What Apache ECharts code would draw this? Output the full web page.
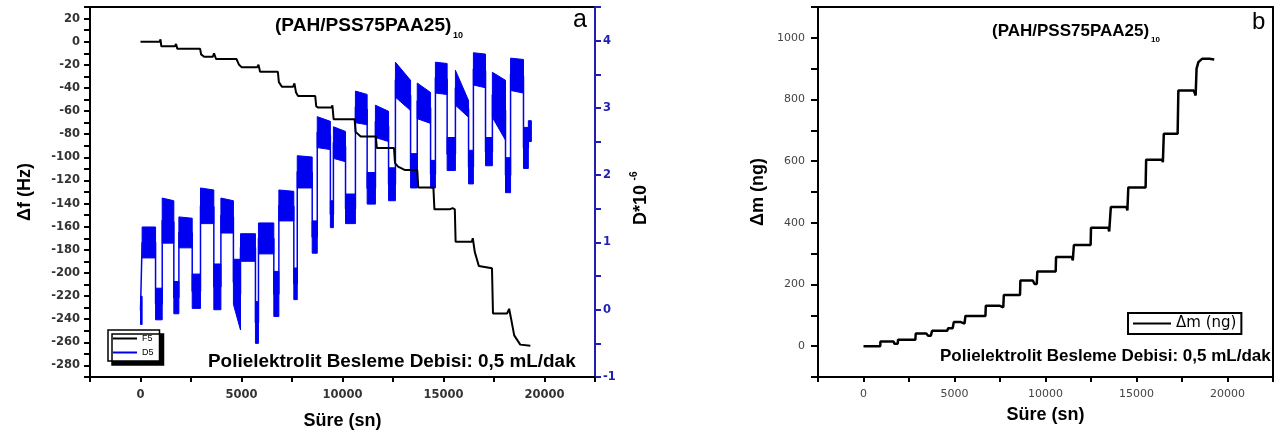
<!DOCTYPE html>
<html><head><meta charset="utf-8">
<script src="https://cdn.jsdelivr.net/npm/echarts@6/dist/echarts.min.js"></script>
<style>html,body{margin:0;padding:0;background:#fff}#c{width:1282px;height:439px}</style>
</head><body><div id="c"></div>
<script>
// ---------- DATA ----------
// Panel a: F5 frequency shift (Hz) vs time (sn)
const f5Time  = [0, 950, 990, 1030, 1700, 1760, 1820, 2950, 3000, 3150, 3580, 3640, 3740, 4750, 4820, 4880, 5000, 5780, 5840, 5920, 6800, 6850, 7000, 7550, 7620, 7700, 7800, 8650, 8700, 8800, 9450, 9500, 9560, 10600, 10650, 10900, 11650, 11700, 12550, 12600, 12750, 13100, 13700, 13750, 14500, 14550, 15300, 15450, 15560, 15600, 16400, 16450, 16550, 16750, 17400, 17450, 18150, 18250, 18350, 18500, 18800, 19300];
const f5Shift = [0, 0, 2, -4, -4, -2, -6, -6, -11, -13, -13, -10, -15, -15, -14, -20, -22, -22, -20, -26, -26, -35, -39, -39, -36, -44, -47, -47, -56, -57, -57, -55, -67, -67, -78, -82, -82, -92, -92, -105, -108, -111, -111, -126, -126, -145, -145, -144, -145, -173, -173, -170, -182, -194, -196, -235, -235, -231, -240, -254, -262, -263];

// Panel a: D5 dissipation (x10^-6) — noisy plateaus read as bands
const d5Start  = [0, 80, 745, 1075, 1650, 1900, 2560, 2970, 3630, 3980, 4600, 4950, 5690, 5840, 6600, 6850, 7590, 7760, 8500, 8750, 9400, 9550, 10150, 10640, 11220, 11630, 12280, 12620, 13370, 13700, 14360, 14600, 15180, 15590, 16240, 16480, 17080, 17420, 18070, 18320, 18960, 19200];
const d5End    = [80, 745, 1075, 1650, 1900, 2560, 2970, 3630, 3980, 4600, 4950, 5690, 5840, 6600, 6850, 7590, 7760, 8500, 8750, 9400, 9550, 10150, 10640, 11220, 11630, 12280, 12620, 13370, 13700, 14360, 14600, 15180, 15590, 16240, 16480, 17080, 17420, 18070, 18320, 18960, 19200, 19350];
const d5TopA   = [0.2, 1.23, 0.32, 1.66, 0.42, 1.38, 0.53, 1.81, 0.68, 1.66, 0.75, 1.13, 0.12, 1.29, 0.57, 1.78, 0.62, 2.29, 1.32, 2.87, 1.62, 2.72, 1.72, 3.25, 2.04, 3.04, 2.11, 3.68, 2.32, 3.37, 2.22, 3.68, 2.56, 3.56, 2.37, 3.82, 2.56, 3.53, 2.26, 3.74, 2.71, 2.81];
const d5TopB   = [0.2, 1.23, 0.32, 1.62, 0.42, 1.36, 0.53, 1.78, 0.68, 1.62, 0.75, 1.13, 0.12, 1.29, 0.57, 1.76, 0.62, 2.27, 1.32, 2.80, 1.62, 2.65, 1.72, 3.20, 2.04, 2.95, 2.11, 3.41, 2.32, 3.23, 2.22, 3.66, 2.56, 3.11, 2.37, 3.80, 2.56, 3.41, 2.26, 3.72, 2.71, 2.81];
const d5BotA   = [-0.22, 0.77, -0.15, 0.99, -0.06, 0.92, 0.02, 1.28, 0.0, 1.14, 0.08, 0.72, -0.5, 0.83, -0.1, 1.32, 0.15, 1.81, 0.84, 2.41, 1.22, 2.25, 1.28, 2.78, 1.57, 2.56, 1.62, 3.16, 1.81, 2.84, 1.81, 3.22, 2.07, 3.04, 1.87, 3.34, 2.14, 2.86, 1.74, 3.26, 2.10, 2.50];
const d5BotB   = [-0.22, 0.77, -0.15, 0.99, -0.06, 0.92, 0.02, 1.28, 0.0, 1.14, -0.3, 0.72, -0.5, 0.83, -0.1, 1.32, 0.15, 1.81, 0.84, 2.38, 1.22, 2.20, 1.28, 2.75, 1.57, 2.50, 1.62, 2.96, 1.81, 2.77, 1.81, 3.20, 2.07, 2.86, 1.87, 3.30, 2.14, 2.52, 1.74, 3.22, 2.10, 2.50];

// Panel b: mass change (ng) vs time (sn)
const massTime  = [0, 920, 930, 1650, 1700, 1880, 1900, 2850, 2870, 3450, 3550, 3700, 3770, 4600, 4650, 4900, 4960, 5350, 5450, 5550, 5600, 6700, 6720, 7500, 7600, 7680, 7710, 8600, 8620, 9300, 9400, 9520, 9550, 10560, 10580, 11450, 11500, 11540, 11560, 12480, 12500, 13450, 13500, 13570, 13590, 14450, 14500, 14530, 14550, 15500, 15530, 16400, 16450, 16480, 16500, 17260, 17300, 18150, 18250, 18290, 18300, 18400, 18600, 19000, 19270];
const massValue = [0, 0, 15, 15, 8, 8, 21, 21, 41, 41, 34, 34, 50, 50, 58, 58, 78, 78, 73, 73, 98, 98, 131, 131, 126, 126, 166, 166, 213, 213, 202, 202, 242, 242, 289, 289, 278, 278, 328, 328, 384, 384, 372, 372, 451, 451, 440, 440, 515, 515, 605, 605, 597, 597, 689, 689, 829, 829, 813, 813, 900, 921, 932, 932, 930];

// Texts
const panelTitle = '(PAH/PSS75PAA25)';
const titleSub = '10';
const noteText = 'Polielektrolit Besleme Debisi: 0,5 mL/dak';

// ---------- CHART ----------
const ARIAL = 'Liberation Sans, Arial, sans-serif';
const VERD = 'DejaVu Sans, Verdana, sans-serif';
const BLUE = '#0000f0';
const AXBLUE = '#1f1fb4';
const chart = echarts.init(document.getElementById('c'), null, {renderer: 'canvas'});

const f5Data = f5Time.map((t, i) => [t, f5Shift[i]]);
const massData = massTime.map((t, i) => [t, massValue[i]]);
const bandData = d5Start.map((t, i) => [t, d5End[i], d5TopA[i], d5TopB[i], d5BotA[i], d5BotB[i]]);
const d5Line = [];
d5Start.forEach((t, i) => {
  d5Line.push([t, (d5TopA[i] + d5BotA[i]) / 2]);
  d5Line.push([d5End[i], (d5TopB[i] + d5BotB[i]) / 2]);
});

function renderBand(params, api) {
  const p1 = api.coord([api.value(0), api.value(2)]);
  const p2 = api.coord([api.value(1), api.value(3)]);
  const p3 = api.coord([api.value(1), api.value(5)]);
  const p4 = api.coord([api.value(0), api.value(4)]);
  return {type: 'polygon', shape: {points: [p1, p2, p3, p4]}, style: {fill: BLUE, stroke: BLUE, lineWidth: 1}};
}

const xLabelFmt = v => (Math.round(v) % 5000 === 0 ? String(Math.round(v)) : '');

function xAxisCfg(grid, labelStyle, nameGap) {
  return {
    gridIndex: grid, type: 'value', min: -2500, max: 22500, interval: 2500,
    axisLine: {onZero: false, lineStyle: {color: '#000', width: 2}},
    axisTick: {length: 5, lineStyle: {color: '#000', width: 2}},
    axisLabel: Object.assign({formatter: xLabelFmt, margin: 12}, labelStyle),
    splitLine: {show: false},
    name: 'Süre (sn)', nameLocation: 'middle', nameGap: nameGap,
    nameTextStyle: {fontFamily: ARIAL, fontWeight: 'bold', fontSize: 18, color: '#000'}
  };
}

const option = {
  animation: false,
  backgroundColor: '#fff',
  grid: [
    {left: 90, top: 7, width: 505, height: 370, show: true, borderColor: '#000', borderWidth: 2, backgroundColor: 'transparent'},
    {left: 818, top: 7, width: 455, height: 370, show: true, borderColor: '#000', borderWidth: 2, backgroundColor: 'transparent'}
  ],
  xAxis: [
    xAxisCfg(0, {color: '#333', fontWeight: 'bold', fontSize: 11.5, fontFamily: VERD}, 35),
    xAxisCfg(1, {color: '#444', fontSize: 11, fontFamily: VERD}, 29)
  ],
  yAxis: [
    {
      gridIndex: 0, type: 'value', position: 'left', min: -290, max: 30, interval: 10,
      axisLine: {onZero: false, lineStyle: {color: '#000', width: 2}},
      axisTick: {length: 6, lineStyle: {color: '#000', width: 2}},
      axisLabel: {formatter: v => (Math.round(v) % 20 === 0 ? String(Math.round(v)) : ''), color: '#333', fontWeight: 'bold', fontSize: 11.5, margin: 10, fontFamily: VERD},
      splitLine: {show: false},
      name: 'Δf (Hz)', nameLocation: 'middle', nameGap: 56, nameRotate: 90,
      nameTextStyle: {fontFamily: ARIAL, fontWeight: 'bold', fontSize: 18, color: '#000'}
    },
    {
      gridIndex: 0, type: 'value', position: 'right', min: -1, max: 4.5, interval: 0.5,
      axisLine: {onZero: false, lineStyle: {color: AXBLUE, width: 2}},
      axisTick: {length: 6, lineStyle: {color: AXBLUE, width: 2}},
      axisLabel: {formatter: v => (Math.abs(v - Math.round(v)) < 1e-6 ? String(Math.round(v)) : ''), color: AXBLUE, fontWeight: 'bold', fontSize: 11.5, margin: 8, fontFamily: VERD},
      splitLine: {show: false}
    },
    {
      gridIndex: 1, type: 'value', position: 'left', min: -100, max: 1100, interval: 100,
      axisLine: {onZero: false, lineStyle: {color: '#000', width: 2}},
      axisTick: {length: 7, lineStyle: {color: '#000', width: 2}},
      axisLabel: {formatter: v => (Math.round(v) % 200 === 0 ? String(Math.round(v)) : ''), color: '#444', fontSize: 11, margin: 13, fontFamily: VERD},
      splitLine: {show: false},
      name: 'Δm (ng)', nameLocation: 'middle', nameGap: 51, nameRotate: 90,
      nameTextStyle: {fontFamily: ARIAL, fontWeight: 'bold', fontSize: 18, color: '#000'}
    }
  ],
  legend: [
    {
      data: [{name: 'F5', icon: 'rect'}, {name: 'D5', icon: 'rect'}],
      left: 108, top: 330, orient: 'vertical', itemWidth: 24, itemHeight: 2, itemGap: 5,
      padding: [4, 6, 4, 5], borderColor: '#000', borderWidth: 1.5, backgroundColor: '#fff',
      shadowColor: '#000', shadowOffsetX: 4, shadowOffsetY: 4, shadowBlur: 0.1,
      textStyle: {fontSize: 9, color: '#000', fontFamily: ARIAL}, selectedMode: false
    },
    {
      data: [{name: 'Δm (ng)', icon: 'rect'}],
      left: 1128, top: 313, itemWidth: 38, itemHeight: 2, itemGap: 4, padding: [3, 5, 3, 5],
      borderColor: '#000', borderWidth: 2, backgroundColor: '#fff',
      textStyle: {fontSize: 15, color: '#000', fontFamily: VERD}, selectedMode: false
    }
  ],
  graphic: [
    {type: 'text', x: 275, y: 26, scaleX: 1.06, style: {text: panelTitle, font: 'bold 18px ' + ARIAL, fill: '#000', align: 'left', verticalAlign: 'middle'}},
    {type: 'text', x: 453, y: 36, style: {text: titleSub, font: 'bold 9px ' + ARIAL, fill: '#000', align: 'left', verticalAlign: 'middle'}},
    {type: 'text', x: 573, y: 20, style: {text: 'a', font: '25px ' + ARIAL, fill: '#000', align: 'left', verticalAlign: 'middle'}},
    {type: 'text', x: 208, y: 362, scaleX: 1.08, style: {text: noteText, font: 'bold 17.5px ' + ARIAL, fill: '#000', align: 'left', verticalAlign: 'middle'}},
    {type: 'text', x: 641, y: 205, rotation: Math.PI / 2, style: {text: 'D*10', font: 'bold 18px ' + ARIAL, fill: '#000', align: 'center', verticalAlign: 'middle'}},
    {type: 'text', x: 634, y: 176, rotation: Math.PI / 2, style: {text: '-6', font: 'bold 10px ' + ARIAL, fill: '#000', align: 'center', verticalAlign: 'middle'}},
    {type: 'text', x: 992, y: 31, style: {text: panelTitle, font: 'bold 17px ' + ARIAL, fill: '#000', align: 'left', verticalAlign: 'middle'}},
    {type: 'text', x: 1151, y: 40, style: {text: titleSub, font: 'bold 8px ' + ARIAL, fill: '#000', align: 'left', verticalAlign: 'middle'}},
    {type: 'text', x: 1252, y: 22, style: {text: 'b', font: '24px ' + ARIAL, fill: '#000', align: 'left', verticalAlign: 'middle'}},
    {type: 'text', x: 940, y: 356, style: {text: noteText, font: 'bold 17px ' + ARIAL, fill: '#000', align: 'left', verticalAlign: 'middle'}}
  ],
  series: [
    {
      name: 'D5 band', type: 'custom', xAxisIndex: 0, yAxisIndex: 1, renderItem: renderBand,
      data: bandData, encode: {x: [0, 1], y: [2, 3, 4, 5]}, z: 2, silent: true
    },
    {
      name: 'D5', type: 'line', xAxisIndex: 0, yAxisIndex: 1, data: d5Line, showSymbol: false,
      color: BLUE, lineStyle: {color: BLUE, width: 1.5}, z: 3
    },
    {
      name: 'F5', type: 'line', xAxisIndex: 0, yAxisIndex: 0, data: f5Data, showSymbol: false,
      color: '#000', lineStyle: {color: '#000', width: 2}, z: 4
    },
    {
      name: 'Δm (ng)', type: 'line', xAxisIndex: 1, yAxisIndex: 2, data: massData, showSymbol: false,
      color: '#000', lineStyle: {color: '#000', width: 2.5}, z: 4
    }
  ]
};
chart.setOption(option);
</script>
</body></html>
